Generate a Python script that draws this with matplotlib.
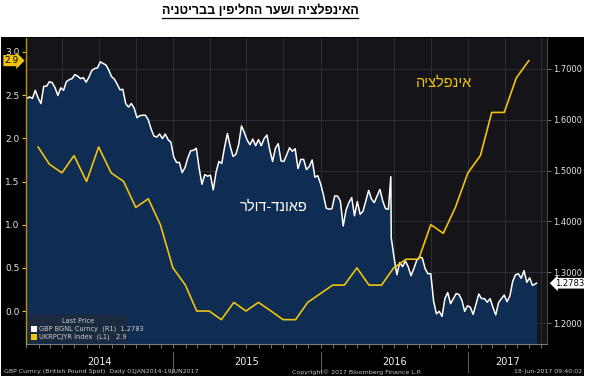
#!/usr/bin/env python

import pandas as pd
import matplotlib

matplotlib.use('agg')

import matplotlib.pyplot as plt
import matplotlib.dates as mdates
from matplotlib.patches import Rectangle, FancyBboxPatch
from matplotlib.lines import Line2D

# UK CPI YoY (UKRPCJYR), monthly Jan 2014 .. May 2017
cpi = [1.9, 1.7, 1.6, 1.8, 1.5, 1.9, 1.6, 1.5, 1.2, 1.3, 1.0, 0.5,
       0.3, 0.0, 0.0, -0.1, 0.1, 0.0, 0.1, 0.0, -0.1, -0.1, 0.1, 0.2,
       0.3, 0.3, 0.5, 0.3, 0.3, 0.5, 0.6, 0.6, 1.0, 0.9, 1.2, 1.6,
       1.8, 2.3, 2.3, 2.7, 2.9]

# GBPUSD weekly (Fridays) from 3 Jan 2014
gbp_2014 = [1.642, 1.645, 1.642, 1.658, 1.643,
            1.632, 1.666, 1.666, 1.675,
            1.673, 1.663, 1.648, 1.663,
            1.658, 1.675, 1.679, 1.681,
            1.689, 1.686, 1.681, 1.683, 1.674,
            1.684, 1.697, 1.701, 1.702,
            1.714, 1.711, 1.708, 1.698,
            1.685, 1.680, 1.670, 1.659, 1.660,
            1.632, 1.625, 1.632, 1.623,
            1.604, 1.608, 1.609, 1.609, 1.600,
            1.582, 1.568, 1.566, 1.572,
            1.563, 1.572, 1.561, 1.556]
gbp_2015 = [1.527, 1.516, 1.516, 1.496, 1.506,
            1.525, 1.539, 1.540, 1.544,
            1.505, 1.473, 1.492, 1.489,
            1.491, 1.462, 1.497, 1.518,
            1.514, 1.546, 1.573, 1.548, 1.528,
            1.532, 1.551, 1.588, 1.575,
            1.560, 1.551, 1.562, 1.549, 1.561,
            1.549, 1.563, 1.570, 1.541,
            1.518, 1.544, 1.553, 1.519,
            1.518, 1.531, 1.545, 1.538, 1.543,
            1.504, 1.522, 1.522, 1.502,
            1.508, 1.521, 1.487, 1.490]
gbp_2016 = [1.474, 1.452, 1.426, 1.424, 1.425,
            1.450, 1.450, 1.440, 1.391,
            1.422, 1.437, 1.447, 1.411,
            1.439, 1.414, 1.420, 1.440, 1.461,
            1.444, 1.437, 1.450, 1.463,
            1.440, 1.425, 1.424, 1.368,
            1.329, 1.295, 1.319, 1.311, 1.322,
            1.311, 1.293, 1.307, 1.323,
            1.330, 1.328, 1.307, 1.297, 1.297,
            1.243, 1.218, 1.223, 1.213,
            1.248, 1.260, 1.238, 1.248,
            1.258, 1.256, 1.245, 1.223, 1.234]
gbp_2017 = [1.231, 1.217, 1.237, 1.257,
            1.248, 1.248, 1.241, 1.248,
            1.231, 1.216, 1.240, 1.248, 1.255,
            1.242, 1.253, 1.282, 1.295,
            1.297, 1.288, 1.303, 1.280,
            1.289, 1.274, 1.277]

# extra daily points (referendum spike, last price)
extra_dates = ['2016-06-23', '2017-06-19']
extra_vals = [1.488, 1.2783]

left_ticks = [0.0, 0.5, 1.0, 1.5, 2.0, 2.5, 3.0]
right_ticks = [1.2, 1.3, 1.4, 1.5, 1.6, 1.7]
years = [2014, 2015, 2016, 2017]

YELLOW = '#f0c30f'
NAVY = '#0f2d52'
W, H = 590.0, 388.0


def rtl(s):
    # matplotlib lays glyphs out left to right, so reverse Hebrew by hand
    return s[::-1]


def main():
    weekly = gbp_2014 + gbp_2015 + gbp_2016 + gbp_2017
    gbp = pd.Series(weekly, index=pd.date_range('2014-01-03', periods=len(weekly), freq='W-FRI'))
    gbp = pd.concat([gbp, pd.Series(extra_vals, index=pd.to_datetime(extra_dates))]).sort_index()
    cpi_s = pd.Series(cpi, index=pd.date_range('2014-01-31', periods=len(cpi), freq='ME'))

    fig = plt.figure(figsize=(W / 100, H / 100), dpi=100)
    fig.patch.set_facecolor('white')
    fig.add_artist(Rectangle((1 / W, 1 - 376 / H), 583 / W, 339 / H, transform=fig.transFigure,
                             facecolor='black', edgecolor='none', zorder=0))

    ax = fig.add_axes([26 / W, 1 - 344 / H, 521 / W, 306 / H])
    axi = ax.twinx()

    # pound on the right axis, filled
    ax.set_facecolor('#141419')
    ax.fill_between(gbp.index, gbp.values, 1.0, color=NAVY, lw=0, zorder=1)
    ax.plot(gbp.index, gbp.values, color='white', lw=1.1, zorder=3)
    ax.set_ylim(1.1587, 1.761)
    ax.set_xlim(pd.Timestamp('2014-01-01'), pd.Timestamp('2017-07-15'))

    ax.yaxis.tick_right()
    ax.yaxis.set_label_position('right')
    ax.set_yticks(right_ticks)
    ax.set_yticklabels(['%.4f' % v for v in right_ticks])
    ax.tick_params(axis='y', colors='#8a8a8a', labelcolor='#e6e6e6', labelsize=6,
                   length=3, width=0.6, pad=1.5)
    ax.xaxis.set_major_locator(mdates.MonthLocator(bymonth=[1, 4, 7, 10]))
    ax.xaxis.set_minor_locator(mdates.MonthLocator())
    ax.tick_params(axis='x', which='both', colors='#8a8a8a', length=3, width=0.6,
                   labelbottom=False)
    ax.grid(True, color='#2c323c', lw=0.6, zorder=0)
    ax.set_axisbelow(True)
    for side in ('top', 'left'):
        ax.spines[side].set_visible(False)
    ax.spines['bottom'].set_color('#7a7a7a')
    ax.spines['right'].set_color('#555555')
    ax.spines['right'].set_linewidth(0.6)

    # year labels and separators
    xlim_end = pd.Timestamp('2017-07-15')
    for y in years:
        start = pd.Timestamp('%d-01-01' % y)
        end = min(pd.Timestamp('%d-01-01' % (y + 1)), xlim_end)
        mid = start + (end - start) / 2
        ax.text(mid, -0.06, str(y), transform=ax.get_xaxis_transform(), ha='center', va='center',
                color='#f0f0f0', fontsize=7, clip_on=False)
        if y > 2014:
            ax.add_line(Line2D([start, start], [-0.026, -0.09], transform=ax.get_xaxis_transform(),
                               color='#5a5a5a', lw=0.8, clip_on=False))

    # inflation on the left axis
    axi.patch.set_visible(False)
    axi.plot(cpi_s.index, cpi_s.values, color=YELLOW, lw=1.2, zorder=4)
    axi.set_ylim(-0.382, 3.162)
    axi.yaxis.tick_left()
    axi.yaxis.set_label_position('left')
    axi.set_yticks(left_ticks)
    axi.set_yticklabels(['%.1f' % v for v in left_ticks])
    axi.tick_params(axis='y', colors=YELLOW, labelcolor='#e6e6e6', labelsize=6.5,
                    length=3, width=0.8, pad=1.5)
    for side in ('top', 'right', 'bottom'):
        axi.spines[side].set_visible(False)
    axi.spines['left'].set_color('#b8960a')
    axi.spines['left'].set_linewidth(1.0)

    # value tags
    axi.text(-0.014, 2.9, '2.9', transform=axi.get_yaxis_transform(), ha='right', va='center',
             fontsize=6.5, color='black', clip_on=False,
             bbox=dict(boxstyle='rarrow,pad=0.12', fc=YELLOW, ec='none'))
    ax.text(1.016, 1.2783, '1.2783', transform=ax.get_yaxis_transform(), ha='left', va='center',
            fontsize=6, color='black', clip_on=False,
            bbox=dict(boxstyle='larrow,pad=0.1', fc='white', ec='none'))

    # legend box
    axi.add_patch(FancyBboxPatch((0.004, 0.004), 0.19, 0.092, transform=axi.transAxes,
                                 boxstyle='round,pad=0,rounding_size=0.006',
                                 fc='#1d2a3c', ec='none', alpha=0.9, zorder=5))
    axi.text(0.1, 0.075, 'Last Price', transform=axi.transAxes, ha='center', va='center',
             fontsize=4.8, color='#d0d0d0', zorder=6)
    rows = [('white', 'GBP BGNL Curncy  (R1)  1.2783', 0.049),
            (YELLOW, 'UKRPCJYR Index  (L1)   2.9', 0.023)]
    for col, label, yy in rows:
        axi.add_patch(Rectangle((0.01, yy - 0.011), 0.011, 0.022, transform=axi.transAxes,
                                fc=col, ec='none', zorder=6))
        axi.text(0.025, yy, label, transform=axi.transAxes, ha='left', va='center',
                 fontsize=4.8, color='#d0d0d0', zorder=6)

    # hebrew annotations
    heb = ['Liberation Sans', 'DejaVu Sans']
    axi.text((444 - 26) / 521, (344 - 83) / 306, rtl('אינפלציה'), transform=axi.transAxes,
             ha='center', va='center', fontsize=10.5, color=YELLOW, family=heb, zorder=6)
    axi.text((274 - 26) / 521, (344 - 207) / 306, rtl('פאונד-דולר'), transform=axi.transAxes,
             ha='center', va='center', fontsize=10.5, color='white', family=heb, zorder=6)

    # footer
    fy = 1 - 372 / H
    fig.text(4 / W, fy, 'GBP Curncy (British Pound Spot)  Daily 01JAN2014-19JUN2017',
             fontsize=4.5, color='#c8c8c8', va='center')
    fig.text(292 / W, fy, 'Copyright\u00a9 2017 Bloomberg Finance L.P.',
             fontsize=4.5, color='#c8c8c8', va='center')
    fig.text(582 / W, fy, '18-Jun-2017 09:40:02', fontsize=4.5, color='#c8c8c8',
             va='center', ha='right')

    # title, underlined
    title = fig.text(260 / W, 1 - 11 / H, rtl('האינפלציה ושער החליפין בבריטניה'),
                     ha='center', va='center', fontsize=9, fontweight='bold',
                     color='black', family=heb)
    fig.canvas.draw()
    bb = title.get_window_extent().transformed(fig.transFigure.inverted())
    fig.add_artist(Line2D([bb.x0, bb.x1], [bb.y0 - 0.001, bb.y0 - 0.001],
                          transform=fig.transFigure, color='black', lw=0.9))

    fig.savefig('out.png', dpi=100, facecolor='white')


if __name__ == '__main__':
    main()
